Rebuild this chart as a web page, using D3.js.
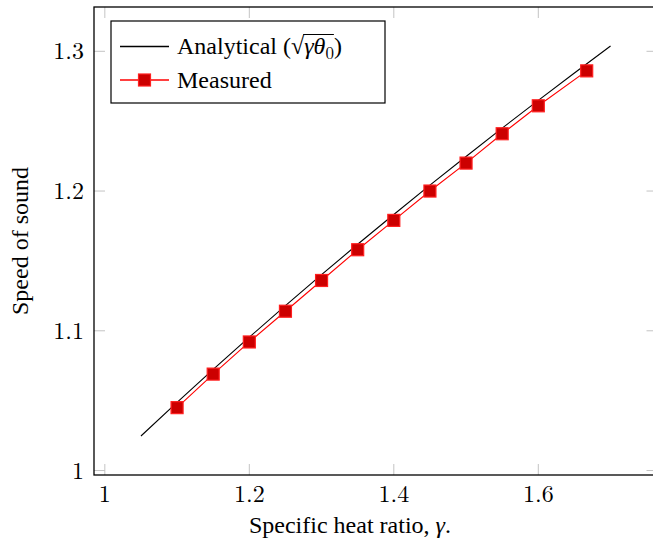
<!DOCTYPE html>
<html>
<head>
<meta charset="utf-8">
<script src="https://cdn.jsdelivr.net/npm/d3@7"></script>
</head>
<body style="margin:0">
<script>
"use strict"

// analytical curve sqrt(gamma * theta0), theta0 = 1
const gammaAnalytical = [1.05, 1.1, 1.15, 1.2, 1.25, 1.3, 1.35, 1.4, 1.45, 1.5, 1.55, 1.6, 1.65, 1.7];
const speedAnalytical = [1.0247, 1.0488, 1.0724, 1.0954, 1.1180, 1.1402, 1.1619, 1.1832, 1.2042, 1.2247, 1.2450, 1.2649, 1.2845, 1.3038];

// measured points
const gammaMeasured = [1.1, 1.15, 1.2, 1.25, 1.3, 1.35, 1.4, 1.45, 1.5, 1.55, 1.6, 1.667];
const speedMeasured = [1.045, 1.069, 1.092, 1.114, 1.136, 1.158, 1.179, 1.200, 1.220, 1.241, 1.261, 1.286];

const xTicks = [1, 1.2, 1.4, 1.6];
const yTicks = [1, 1.1, 1.2, 1.3];

const width = 653, height = 546;
const margin = {left: 94, right: -4.5, top: 7, bottom: 71};
const textFont = "'Liberation Serif', monospace";
const mathFont = "'Latin Modern Roman', 'Liberation Serif', monospace";

const svg = d3.select("body").append("svg")
  .attr("width", width)
  .attr("height", height)
  .style("font-family", textFont, "important");

const x = d3.scaleLinear()
  .domain([0.985, 1.765])
  .range([margin.left, width - margin.right]);

const y = d3.scaleLinear()
  .domain([0.9968, 1.3317])
  .range([height - margin.bottom, margin.top]);

const x0 = x.range()[0], x1 = x.range()[1];
const y0 = y.range()[0], y1 = y.range()[1];
const tickLen = 11;
const tickColor = "#c4c4c4";

// tick marks, inside on all four sides
const ticks = svg.append("g").attr("stroke", tickColor).attr("stroke-width", 1);
xTicks.forEach(t => {
  ticks.append("line").attr("x1", x(t)).attr("x2", x(t)).attr("y1", y0).attr("y2", y0 - tickLen);
  ticks.append("line").attr("x1", x(t)).attr("x2", x(t)).attr("y1", y1).attr("y2", y1 + tickLen);
});
yTicks.forEach(t => {
  ticks.append("line").attr("x1", x0).attr("x2", x0 + tickLen).attr("y1", y(t)).attr("y2", y(t));
  ticks.append("line").attr("x1", x1).attr("x2", x1 - tickLen).attr("y1", y(t)).attr("y2", y(t));
});

// tick labels
svg.append("g").selectAll("text")
  .data(xTicks)
  .join("text")
    .attr("x", d => x(d))
    .attr("y", y0 + 27)
    .attr("text-anchor", "middle")
    .style("font-family", mathFont, "important")
    .style("font-size", "24px")
    .text(d => d3.format("")(d));

svg.append("g").selectAll("text")
  .data(yTicks)
  .join("text")
    .attr("x", x0 - 10)
    .attr("y", d => y(d) + 8)
    .attr("text-anchor", "end")
    .style("font-family", mathFont, "important")
    .style("font-size", "24px")
    .text(d => d3.format("")(d));

// axis frame
svg.append("rect")
  .attr("x", x0).attr("y", y1)
  .attr("width", x1 - x0).attr("height", y0 - y1)
  .attr("fill", "none")
  .attr("stroke", "#000")
  .attr("stroke-width", 1.3);

// analytical line
const line = d3.line().x(d => x(d[0])).y(d => y(d[1]));
svg.append("path")
  .datum(gammaAnalytical.map((g, i) => [g, speedAnalytical[i]]))
  .attr("fill", "none")
  .attr("stroke", "#000")
  .attr("stroke-width", 1.1)
  .attr("d", line);

// measured line + markers
const measured = gammaMeasured.map((g, i) => [g, speedMeasured[i]]);
svg.append("path")
  .datum(measured)
  .attr("fill", "none")
  .attr("stroke", "#ff0000")
  .attr("stroke-width", 1.1)
  .attr("d", line);

const ms = 12;
svg.append("g").selectAll("rect")
  .data(measured)
  .join("rect")
    .attr("x", d => x(d[0]) - ms / 2)
    .attr("y", d => y(d[1]) - ms / 2)
    .attr("width", ms)
    .attr("height", ms)
    .attr("fill", "#cc0000")
    .attr("stroke", "#ff2020")
    .attr("stroke-width", 1.2);

// axis labels
const xl = svg.append("text")
  .attr("x", 350)
  .attr("y", 533)
  .attr("text-anchor", "middle")
  .style("font-family", textFont, "important")
  .style("font-size", "24px");
xl.append("tspan").text("Specific heat ratio, ");
xl.append("tspan").style("font-style", "italic").text("γ");
xl.append("tspan").text(".");

svg.append("text")
  .attr("transform", "translate(28," + ((y0 + y1) / 2) + ") rotate(-90)")
  .attr("text-anchor", "middle")
  .style("font-family", textFont, "important")
  .style("font-size", "24px")
  .text("Speed of sound");

// legend
const legend = svg.append("g");
legend.append("rect")
  .attr("x", 111).attr("y", 21)
  .attr("width", 274).attr("height", 82)
  .attr("fill", "#fff")
  .attr("stroke", "#000")
  .attr("stroke-width", 1.2);

legend.append("line")
  .attr("x1", 120).attr("x2", 169).attr("y1", 46.5).attr("y2", 46.5)
  .attr("stroke", "#000").attr("stroke-width", 1.3);
legend.append("line")
  .attr("x1", 120).attr("x2", 169).attr("y1", 80).attr("y2", 80)
  .attr("stroke", "#ff0000").attr("stroke-width", 1.3);
legend.append("rect")
  .attr("x", 144.5 - ms / 2).attr("y", 80 - ms / 2)
  .attr("width", ms).attr("height", ms)
  .attr("fill", "#cc0000").attr("stroke", "#ff2020").attr("stroke-width", 1.2);

// "Analytical (√γθ0)"; radical bar drawn as a line over the radicand
const lt = legend.append("text")
  .attr("x", 177)
  .attr("y", 54)
  .style("font-family", textFont, "important")
  .style("font-size", "24px");
const head = "Analytical (√";
lt.append("tspan").text(head);
lt.append("tspan")
  .style("font-style", "italic")
  .text("γθ");
lt.append("tspan")
  .attr("dy", 5)
  .style("font-size", "17px")
  .style("font-family", mathFont, "important")
  .text("0");
lt.append("tspan")
  .attr("dy", -5)
  .text(")");

// radical bar from after the √ up to before the closing paren
const n = lt.node();
const nChars = n.getNumberOfChars();
const rootEnd = n.getEndPositionOfChar(head.length - 1).x;
const parenStart = n.getStartPositionOfChar(nChars - 1).x;
legend.append("line")
  .attr("x1", rootEnd - 1).attr("x2", parenStart)
  .attr("y1", 34.5).attr("y2", 34.5)
  .attr("stroke", "#000").attr("stroke-width", 1);

legend.append("text")
  .attr("x", 177)
  .attr("y", 88)
  .style("font-family", textFont, "important")
  .style("font-size", "24px")
  .text("Measured");
</script>
</body>
</html>
